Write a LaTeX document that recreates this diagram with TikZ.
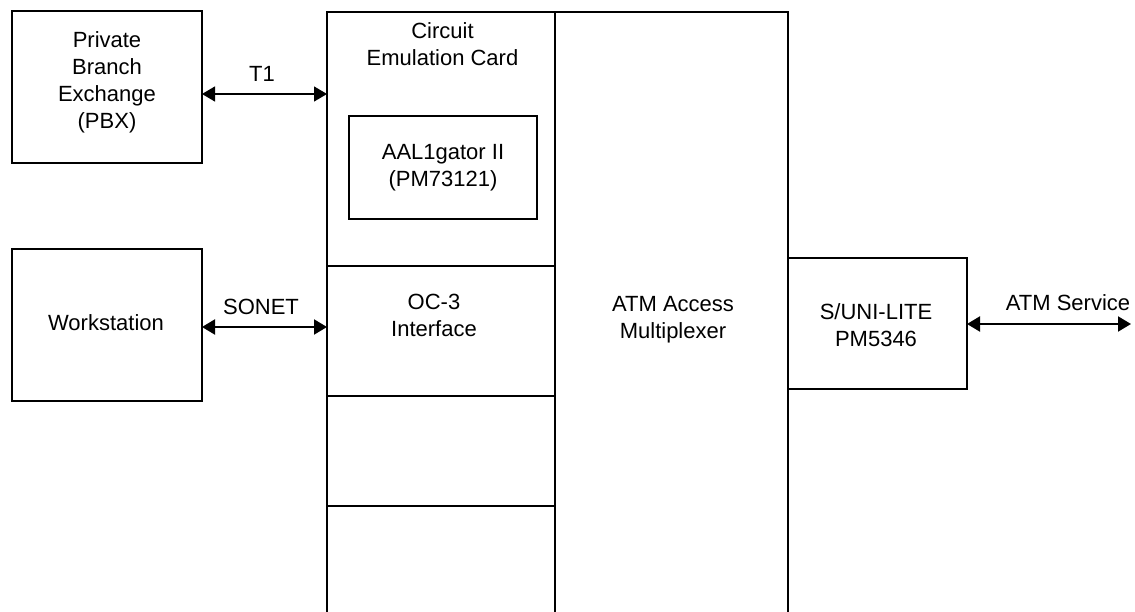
\documentclass[tikz,border=0pt]{standalone}
\usepackage{fontspec}
\setmainfont{Liberation Sans}
\usetikzlibrary{arrows.meta}
\tikzset{
  box/.style={draw, line width=2pt, inner sep=0pt, outer sep=0pt},
  lbl/.style={align=center, inner sep=0pt, font=\fontsize{22}{27}\selectfont},
  arr/.style={line width=2pt, {Triangle[length=13pt,width=15pt]}-{Triangle[length=13pt,width=15pt]}},
  thinarr/.style={line width=1.3pt, {Triangle[length=13pt,width=15pt]}-{Triangle[length=13pt,width=15pt]}}
}
\begin{document}
\begin{tikzpicture}[x=1pt,y=-1pt]
\clip (0,0) rectangle (1135,612);
\fill[white] (0,0) rectangle (1135,612);
% boxes
\node[box, minimum width=190pt, minimum height=152pt] (pbx) at (107,87) {};
\node[box, minimum width=190pt, minimum height=152pt] (ws) at (107,325) {};
\node[box, minimum width=228pt, minimum height=254pt] (cec) at (441,139) {};
\node[box, minimum width=228pt, minimum height=130pt] (oc3) at (441,331) {};
\node[box, minimum width=228pt, minimum height=110pt] (cell3) at (441,451) {};
\node[box, minimum width=228pt, minimum height=120pt] (cell4) at (441,566) {};
\node[box, minimum width=233pt, minimum height=610pt] (mux) at (671.5,317) {};
\node[box, minimum width=188pt, minimum height=103pt] (aal) at (443,167.5) {};
\node[box, minimum width=179pt, minimum height=131pt] (suni) at (877.5,323.5) {};
\coordinate (svc) at (1131,324);
% labels
\node[lbl] (tpbx) at (107,82) {Private\\Branch\\Exchange\\(PBX)};
\node[lbl] (tws) at (106,323) {Workstation};
\node[lbl] (tcec) at (442.5,44) {Circuit\\Emulation Card};
\node[lbl] (taal) at (443,168) {AAL1gator II\\(PM73121)};
\node[lbl] (toc3) at (434,315) {OC-3\\Interface};
\node[lbl] (tmux) at (673,320) {ATM Access\\Multiplexer};
\node[lbl] (tsuni) at (876,325) {S/UNI-LITE\\PM5346};
\node[lbl] (tt1) at (262,74) {T1};
\node[lbl] (tsonet) at (261,307) {SONET};
\node[lbl] (tsvc) at (1068,303) {ATM Service};
% connectors
\draw[thinarr] ([yshift=-7pt]pbx.east) -- ([yshift=-7pt]pbx.east -| cec.west);
\draw[arr] ([yshift=-2pt]ws.east) -- ([yshift=-2pt]ws.east -| oc3.west);
\draw[arr] (suni.east |- svc) -- (svc);
\end{tikzpicture}
\end{document}
